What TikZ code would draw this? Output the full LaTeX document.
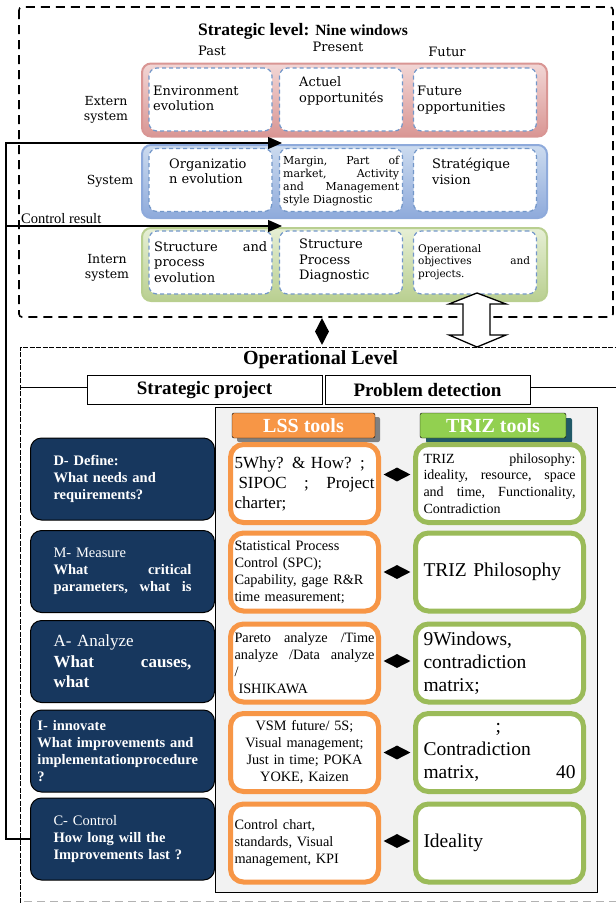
\documentclass[tikz,border=0pt]{standalone}
\usepackage{fontspec}
\setmainfont{Liberation Serif}
\newfontfamily\nwfont{DejaVu Serif}
\usetikzlibrary{shapes.geometric,arrows.meta,shadows}
\pgfdeclarelayer{bg}
\pgfsetlayers{bg,main}
\definecolor{lssorange}{HTML}{F79646}
\definecolor{trizgreen}{HTML}{9BBB59}
\definecolor{tabgreen}{HTML}{92D050}
\definecolor{tabteal}{HTML}{215967}
\definecolor{navy}{HTML}{17375E}
\definecolor{panelgrey}{HTML}{F2F2F2}
\definecolor{winblue}{HTML}{7397C9}
\definecolor{redlite}{HTML}{F2D6D5}
\definecolor{reddark}{HTML}{D99694}
\definecolor{bluelite}{HTML}{CCDBEF}
\definecolor{bluedark}{HTML}{8EAADB}
\definecolor{greenlite}{HTML}{E6EFD5}
\definecolor{greendark}{HTML}{B9CF90}
\newcommand{\spreadw}{\hskip 0pt plus 1filll\relax}
\tikzset{
    heading/.style={inner sep=0pt, font=\bfseries\fontsize{17.5}{20}\selectfont},
    colhead/.style={inner sep=0pt, font=\nwfont\fontsize{13}{15}\selectfont},
    rowlabel/.style={inner sep=0pt, align=center, font=\nwfont\fontsize{12.5}{15}\selectfont},
    row/.style={rectangle, rounded corners=9pt, line width=2pt, minimum width=405pt, minimum height=73pt},
    win/.style={rectangle, rounded corners=8pt, draw=winblue, fill=white, line width=1.2pt,
        dash pattern=on 4pt off 3pt, minimum width=123pt, minimum height=63pt},
    wintext/.style={inner sep=0pt, anchor=west, align=left, font=\nwfont\fontsize{13}{15.5}\selectfont},
    header/.style={rectangle, draw, fill=white, minimum width=235pt, minimum height=29pt,
        inner sep=0pt, font=\bfseries\fontsize{19}{21}\selectfont},
    tab/.style={rectangle, draw, rounded corners=2pt, text=white, minimum width=143pt,
        minimum height=25pt, inner sep=0pt, font=\bfseries\fontsize{20}{22}\selectfont},
    dmaic/.style={rectangle, draw, line width=1pt, rounded corners=11pt, fill=navy, text=white,
        minimum width=184pt, minimum height=82pt, text width=138pt, align=left, inner sep=2pt,
        font=\bfseries\fontsize{14.5}{17}\selectfont},
    lssbox/.style={rectangle, draw=lssorange, line width=5pt, rounded corners=13pt, fill=white,
        minimum width=148pt, minimum height=78pt, text width=140pt, align=left, inner sep=2pt,
        font=\fontsize{14.3}{17}\selectfont},
    trizbox/.style={rectangle, draw=trizgreen, line width=5pt, rounded corners=13pt, fill=white,
        minimum width=168pt, minimum height=78pt, text width=152pt, align=left, inner sep=2pt,
        font=\fontsize{19.5}{23}\selectfont},
    linkdia/.style={diamond, fill=black, inner sep=0pt, minimum width=27pt, minimum height=14pt},
    ctrlline/.style={line width=1.2pt, -{Triangle[length=14pt, width=12pt]}},
}

\begin{document}
\begin{tikzpicture}[x=1pt, y=-1pt]
    \useasboundingbox (0,0) rectangle (616,903);

    \begin{pgfonlayer}{bg}
        \draw [line width=1.6pt, dash pattern=on 9pt off 6pt, rounded corners=3pt] (19,7) rectangle (613,317);
        \draw [line width=1pt, dash pattern=on 5pt off 1.5pt] (20,903) -- (20,347) -- (616,347);
        \draw [gray!60, line width=1pt, dash pattern=on 8pt off 5pt] (24,901) -- (616,901);
        \draw [line width=1pt, fill=panelgrey] (215,407) rectangle (597,892);
    \end{pgfonlayer}

    % strategic level: nine windows
    \node (title) [heading] at (303, 31) {Strategic level: \fontsize{15.5}{18}\selectfont Nine windows};
    \node (past) [colhead] at (212, 51) {Past};
    \node (present) [colhead] at (338, 47) {Present};
    \node (futur) [colhead] at (447, 52) {Futur};

    \node (extrow) [row, top color=redlite, bottom color=reddark, draw=reddark] at (344.5, 100) {};
    \node (sysrow) [row, top color=bluelite, bottom color=bluedark, draw=bluedark] at (344.5, 181.5) {};
    \node (introw) [row, top color=greenlite, bottom color=greendark, draw=greendark] at (344.5, 264.5) {};

    \node (extlbl) [rowlabel] at (106, 110) {Extern\\system};
    \node (syslbl) [rowlabel] at (110, 181) {System};
    \node (intlbl) [rowlabel] at (107, 268) {Intern\\system};

    \node (e1) [win] at (210.5, 99.5) {};
    \node (e2) [win] at (341, 99.5) {};
    \node (e3) [win] at (475, 99.5) {};
    \node (s1) [win] at (210.5, 180) {};
    \node (s2) [win] at (341, 180) {};
    \node (s3) [win] at (475, 180) {};
    \node (i1) [win] at (210.5, 262.5) {};
    \node (i2) [win] at (341, 262.5) {};
    \node (i3) [win] at (475, 262.5) {};

    \node (e1t) [wintext] at (153, 98.5) {Environment\\evolution};
    \node (e2t) [wintext] at (299, 91) {Actuel\\opportunités};
    \node (e3t) [wintext] at (417, 100) {Future\\opportunities};
    \node (s1t) [wintext] at (169, 171.5) {Organizatio\\n evolution};
    \node (s2t) [wintext, text width=116pt, font=\nwfont\fontsize{11}{12.7}\selectfont] at (283, 181)
        {Margin,\spreadw Part\spreadw of\\market,\spreadw Activity\\and\spreadw Management\\style Diagnostic};
    \node (s3t) [wintext] at (432, 171.5) {Stratégique\\vision};
    \node (i1t) [wintext, text width=113pt] at (154, 262) {Structure\spreadw and\\process\\evolution};
    \node (i2t) [wintext] at (299, 261) {Structure\\Process\\Diagnostic};
    \node (i3t) [wintext, text width=112pt, font=\nwfont\fontsize{10.5}{12.5}\selectfont] at (418, 262)
        {Operational\\objectives\spreadw and\\projects.};

    % between the levels
    \node (levellink) [linkdia, minimum width=14pt, minimum height=27pt] at (322, 331.5) {};
    \draw [line width=1.3pt, fill=white] (477,293) -- (506,304) -- (490,304) -- (490,335) -- (506,335)
        -- (477,347) -- (449,335) -- (463,335) -- (463,304) -- (449,304) -- cycle;

    % operational level
    \node (optitle) [heading, font=\bfseries\fontsize{20}{22}\selectfont] at (320.5, 360) {Operational Level};
    \coordinate (opleft) at (20, 387);
    \coordinate (opright) at (616, 387);
    \node (stratproj) [header] at (204.5, 389.5) {Strategic project};
    \node (probdet) [header, minimum width=205pt] at (427.5, 389.5) {Problem detection};
    \draw [line width=1pt] (opleft) -- (stratproj.west |- opleft);
    \draw [line width=1pt] (probdet.east |- opright) -- (opright);

    \node (lsstab) [tab, fill=lssorange, general shadow={fill=gray, shadow xshift=5pt, shadow yshift=-4pt}]
        at (303.5, 425.5) {LSS tools};
    \node (triztab) [tab, fill=tabgreen, minimum width=146pt, general shadow={fill=tabteal, shadow xshift=6pt, shadow yshift=-5pt}]
        at (493, 425.5) {TRIZ tools};

    \node (dbox) [dmaic] at (122.5, 479) {D- Define:\\What needs and\\requirements?};
    \node (mbox) [dmaic] at (122.5, 571.5) {{\mdseries M- Measure}\\What\spreadw critical\\parameters,\spreadw what\spreadw is};
    \node (abox) [dmaic, font=\bfseries\fontsize{17}{20.5}\selectfont] at (122.5, 661.5)
        {{\mdseries A- Analyze}\\What\spreadw causes,\\what};
    \node (ibox) [dmaic, text width=170pt] at (122.5, 751) {I- innovate\\What improvements and\\implementationprocedure\\?};
    \node (cbox) [dmaic] at (122.5, 839) {{\mdseries C- Control}\\How long will the\\Improvements last ?};

    \node (lss1) [lssbox, font=\fontsize{17}{20}\selectfont] at (304.5, 483.5)
        {5Why? \& How? ;\\\hspace*{4pt}SIPOC\spreadw ;\spreadw Project\\charter;};
    \node (lss2) [lssbox] at (304.5, 572) {Statistical Process\\Control (SPC);\\Capability, gage R\&R\\time measurement;};
    \node (lss3) [lssbox] at (304.5, 663) {Pareto\spreadw analyze\spreadw /Time\\analyze\spreadw /Data\spreadw analyze\\/\\\hspace*{4pt}ISHIKAWA};
    \node (lss4) [lssbox, align=center] at (304.5, 752.5) {VSM future/ 5S;\\Visual management;\\Just in time; POKA\\YOKE, Kaizen};
    \node (lss5) [lssbox] at (304.5, 843) {Control chart,\\standards, Visual\\management, KPI};

    \node (triz1) [trizbox, font=\fontsize{14}{16.8}\selectfont] at (499.5, 483.5)
        {TRIZ\spreadw philosophy:\\ideality,\spreadw resource,\spreadw space\\and\spreadw time,\spreadw Functionality,\\Contradiction};
    \node (triz2) [trizbox] at (499.5, 572) {TRIZ Philosophy};
    \node (triz3) [trizbox] at (499.5, 663) {9Windows,\\contradiction\\matrix;};
    \node (triz4) [trizbox] at (499.5, 752.5) {\hspace*{72pt};\\Contradiction\\matrix,\spreadw 40};
    \node (triz5) [trizbox] at (499.5, 843) {Ideality};

    \path (lss1) -- node (dia1) [linkdia, yshift=9pt] {} (triz1);
    \path (lss2) -- node (dia2) [linkdia] {} (triz2);
    \path (lss3) -- node (dia3) [linkdia, yshift=2pt] {} (triz3);
    \path (lss4) -- node (dia4) [linkdia] {} (triz4);
    \path (lss5) -- node (dia5) [linkdia, yshift=2pt] {} (triz5);

    % control result
    \coordinate (ctrltip) at (282, 143);
    \coordinate (resultstart) at (6, 226);
    \coordinate (resulttip) at (282, 226);
    \draw [ctrlline] (cbox.west) -| (resultstart) |- (ctrltip);
    \draw [ctrlline] (resultstart) -- (resulttip)
        node (ctrltext) [pos=0.2, above, inner sep=1.5pt, font=\fontsize{14.5}{16}\selectfont] {Control result};
\end{tikzpicture}
\end{document}
